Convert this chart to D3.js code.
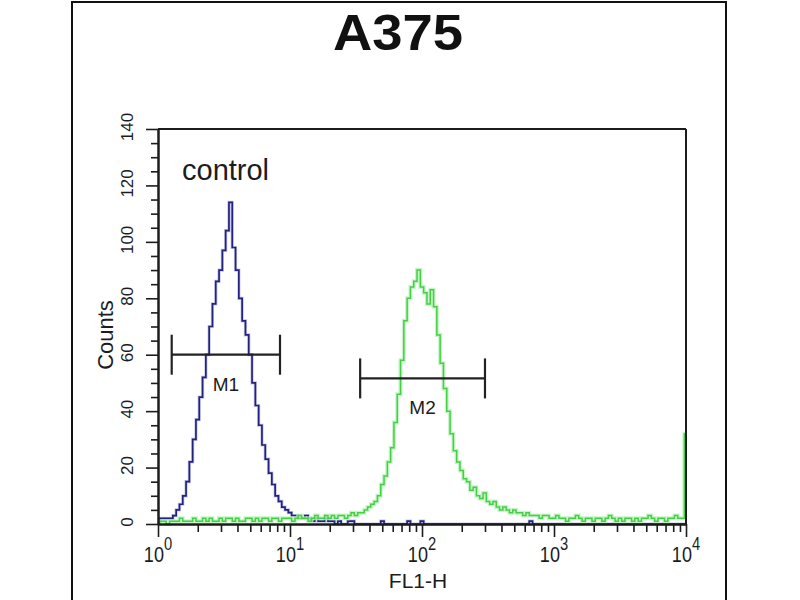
<!DOCTYPE html>
<html><head><meta charset="utf-8">
<script src="https://cdn.jsdelivr.net/npm/d3@7"></script>
<style>body{margin:0;background:#fff} svg{display:block;font-family:"Liberation Sans",Arial,sans-serif}</style>
</head>
<body><svg id="c" width="800" height="600"></svg>
<script>
// ---------- data ----------
const title = "A375";
const xLabel = "FL1-H";
const yLabel = "Counts";
const sampleLabel = "control";
const xMajor = [1, 10, 100, 1000, 10000];
const xExponents = ["0", "1", "2", "3", "4"];
const yTicks = [0, 20, 40, 60, 80, 100, 120, 140];
const yMinorStep = 5;
const binStep = 0.025; // log10 width of each histogram channel

// control (blue) histogram counts per channel
const blueCounts = [
  1,2,2,2,2,3,5,7,10,15,
  22,30,37,45,52,60,70,78,86,90,
  97,104,114,98,90,80,72,67,60,50,
  42,35,28,23,18,14,10,8,6,5,
  4,3,3,2,2,3,2,1,2,1,
  1,2,1,1,0,1,0,0,1,1,
  0,0,0,0,0,0,0,0,1,0,
  0,0,0,0,0,0,1,0,0,0,
  1,0,0,0,0,0,0,0,0,0,
  0,0,0,0,0,0,0,0,0,0,
  0,0,0,0,0,0,0,0,0,0,
  0,0,0,1,0,0,0,0,0,0,
  0,0,0,0,0,0,0,0,0,0,
  0,0,0,0,0,0,0,0,0,0,
  0,0,0,0,0,0,0,0,0,0,
  0,0,0,0,0,0,0,0,0,0,
  0
];
// antibody-stained (green) histogram counts per channel
const greenCounts = [
  0,1,1,0,1,1,1,2,1,1,1,2,1,1,2,1,2,1,1,2,
  1,2,2,1,2,1,1,2,2,1,2,1,2,2,1,2,2,1,2,2,
  2,1,2,3,2,2,1,2,3,2,2,3,2,3,2,3,3,2,3,4,
  3,4,4,5,6,7,8,10,14,17,22,27,36,46,58,72,80,84,86,90,
  84,82,78,83,77,67,57,48,40,32,26,22,19,16,15,12,13,10,9,11,
  8,7,8,6,5,6,5,4,5,4,4,3,4,3,3,3,2,3,3,2,
  2,3,2,2,1,2,2,3,2,1,2,2,1,2,2,1,2,3,2,1,
  2,1,2,2,1,2,1,2,2,3,2,1,2,2,1,2,2,3,2,2,
  32
];
const markerNames = ["M1", "M2"];
const markerLo = [1.27, 34];
const markerHi = [8.4, 300];
const markerLevel = [60, 51.6];

// ---------- drawing ----------
const svg = d3.select("#c");
const L = 158, R = 686, T = 129, B = 524;
const x = d3.scaleLog().domain([1, 10000]).range([L, R]);
const y = d3.scaleLinear().domain([0, 140]).range([B, T]);
const ink = "#1c1c1c";

// outer frame
svg.append("rect").attr("x", 72).attr("y", 2).attr("width", 654).attr("height", 640)
  .attr("fill", "none").attr("stroke", "#111").attr("stroke-width", 2);

// title
svg.append("text").attr("x", 398).attr("y", 50).attr("text-anchor", "middle")
  .attr("font-size", 50).attr("font-weight", "bold").attr("fill", "#111")
  .attr("textLength", 130).attr("lengthAdjust", "spacingAndGlyphs").text(title);

// histograms
const pts = arr => arr.map((v, i) => [Math.pow(10, i * binStep), v]);
const line = d3.line().x(d => x(d[0])).y(d => y(d[1])).curve(d3.curveStep);

svg.append("path").datum(pts(blueCounts)).attr("d", line)
  .attr("fill", "none").attr("stroke", "#8f8fd6").attr("stroke-width", 3.2).attr("opacity", 0.5);
svg.append("path").datum(pts(blueCounts)).attr("d", line)
  .attr("fill", "none").attr("stroke", "#23237e").attr("stroke-width", 1.7);
svg.append("path").datum(pts(greenCounts)).attr("d", line)
  .attr("fill", "none").attr("stroke", "#b9f2b9").attr("stroke-width", 4).attr("opacity", 0.8);
svg.append("path").datum(pts(greenCounts)).attr("d", line)
  .attr("fill", "none").attr("stroke", "#46cf46").attr("stroke-width", 1.5);

// frame lines of plot
svg.append("line").attr("x1", L).attr("x2", R).attr("y1", T).attr("y2", T).attr("stroke", ink).attr("stroke-width", 2);
svg.append("line").attr("x1", R).attr("x2", R).attr("y1", T).attr("y2", B).attr("stroke", ink).attr("stroke-width", 2);

// y axis
const yMinor = d3.range(0, 141, yMinorStep).filter(v => !yTicks.includes(v));
const yAxisG = svg.append("g").attr("transform", `translate(${L},0)`);
yAxisG.call(d3.axisLeft(y).tickValues(yTicks).tickSize(12).tickSizeOuter(0).tickFormat(""));
yAxisG.append("g").call(d3.axisLeft(y).tickValues(yMinor).tickSize(7).tickSizeOuter(0).tickFormat(""));
yAxisG.selectAll("path.domain").attr("stroke", ink).attr("stroke-width", 2);
yAxisG.selectAll(".tick line").attr("stroke", ink).attr("stroke-width", 1.6);

yTicks.forEach(v => {
  svg.append("text").attr("transform", `translate(133,${y(v) - 2}) rotate(-90)`)
    .attr("text-anchor", "middle").attr("font-size", 17).attr("fill", ink).text(v);
});
svg.append("text").attr("transform", "translate(113,335) rotate(-90)")
  .attr("text-anchor", "middle").attr("font-size", 22).attr("fill", ink).text(yLabel);

// x axis
const xMinor = [];
[1, 10, 100, 1000].forEach(d => [2,3,4,5,6,7,8,9].forEach(m => xMinor.push(d * m)));
const xAxisG = svg.append("g").attr("transform", `translate(0,${B})`);
xAxisG.call(d3.axisBottom(x).tickValues(xMajor).tickSize(13).tickSizeOuter(0).tickFormat(""));
xAxisG.append("g").call(d3.axisBottom(x).tickValues(xMinor).tickSize(8).tickSizeOuter(0).tickFormat(""));
xAxisG.selectAll("path.domain").attr("stroke", ink).attr("stroke-width", 2);
xAxisG.selectAll(".tick line").attr("stroke", ink).attr("stroke-width", 1.6);

xMajor.forEach((v, i) => {
  const t = svg.append("text").attr("transform", `translate(${x(v)},562) scale(0.82,1)`)
    .attr("text-anchor", "middle").attr("fill", ink);
  t.append("tspan").attr("font-size", 22).text("10");
  t.append("tspan").attr("font-size", 18).attr("dy", -12).text(xExponents[i]);
});
svg.append("text").attr("x", 418).attr("y", 588).attr("text-anchor", "middle")
  .attr("font-size", 21).attr("fill", ink).text(xLabel);

// sample label
svg.append("text").attr("x", 182).attr("y", 180).attr("font-size", 29).attr("fill", ink).text(sampleLabel);

// markers
markerNames.forEach((nm, i) => {
  const g = svg.append("g").attr("stroke", "#222").attr("stroke-width", 2.2);
  const yy = y(markerLevel[i]);
  const x0 = x(markerLo[i]), x1 = x(markerHi[i]);
  const half = i === 0 ? 20 : 20;
  g.append("line").attr("x1", x0).attr("x2", x1).attr("y1", yy).attr("y2", yy);
  g.append("line").attr("x1", x0).attr("x2", x0).attr("y1", yy - half).attr("y2", yy + half);
  g.append("line").attr("x1", x1).attr("x2", x1).attr("y1", yy - half).attr("y2", yy + half);
  svg.append("text").attr("x", (x0 + x1) / 2).attr("y", yy + 36).attr("text-anchor", "middle")
    .attr("font-size", 19).attr("fill", ink).text(nm);
});
</script>
</body></html>
